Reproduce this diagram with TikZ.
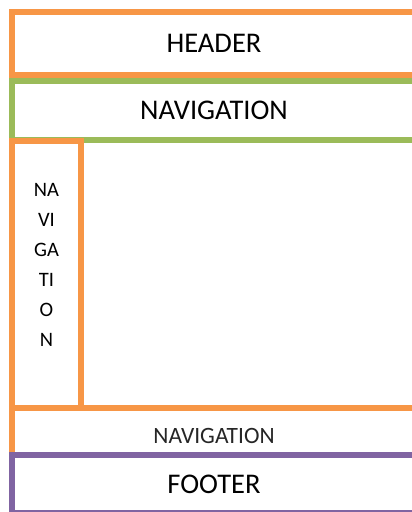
\documentclass[tikz,border=0pt]{standalone}
\usepackage{fontspec}
\setmainfont{Carlito}
\usepackage{tikz}
\definecolor{myorange}{RGB}{247,150,70}
\definecolor{mygreen}{RGB}{155,187,89}
\definecolor{mypurple}{RGB}{128,100,162}
\tikzstyle{block}=[draw=myorange,fill=white,line width=6bp,rectangle,inner sep=0pt,font=\fontsize{28.5bp}{34bp}\selectfont]
\tikzstyle{vtext}=[align=center,inner sep=0pt,font=\fontsize{20.5bp}{30bp}\selectfont]

\begin{document}
\begin{tikzpicture}[x=1bp,y=-1bp]
\useasboundingbox (0,0) rectangle (411,512);
% page parts, top to bottom
\node [block,minimum width=404bp,minimum height=63bp] (header) at (214,43.5) {HEADER};
\node [block,draw=mygreen,minimum width=404bp,minimum height=59bp] (topnav) at (214,110.5) {NAVIGATION};
\node [block,minimum width=69bp,minimum height=267bp] (sidenav) at (46.5,274.5) {};
\node [vtext] (sidetext) at (46.5,265) {NA\\VI\\GA\\TI\\O\\N};
\node [block,minimum width=404bp,minimum height=56bp,text=black!85,font=\fontsize{23.4bp}{28bp}\selectfont] (bottomnav) at (214,436) {NAVIGATION};
\node [block,draw=mypurple,minimum width=404bp,minimum height=58bp] (footer) at (214,484) {FOOTER};
\end{tikzpicture}
\end{document}
